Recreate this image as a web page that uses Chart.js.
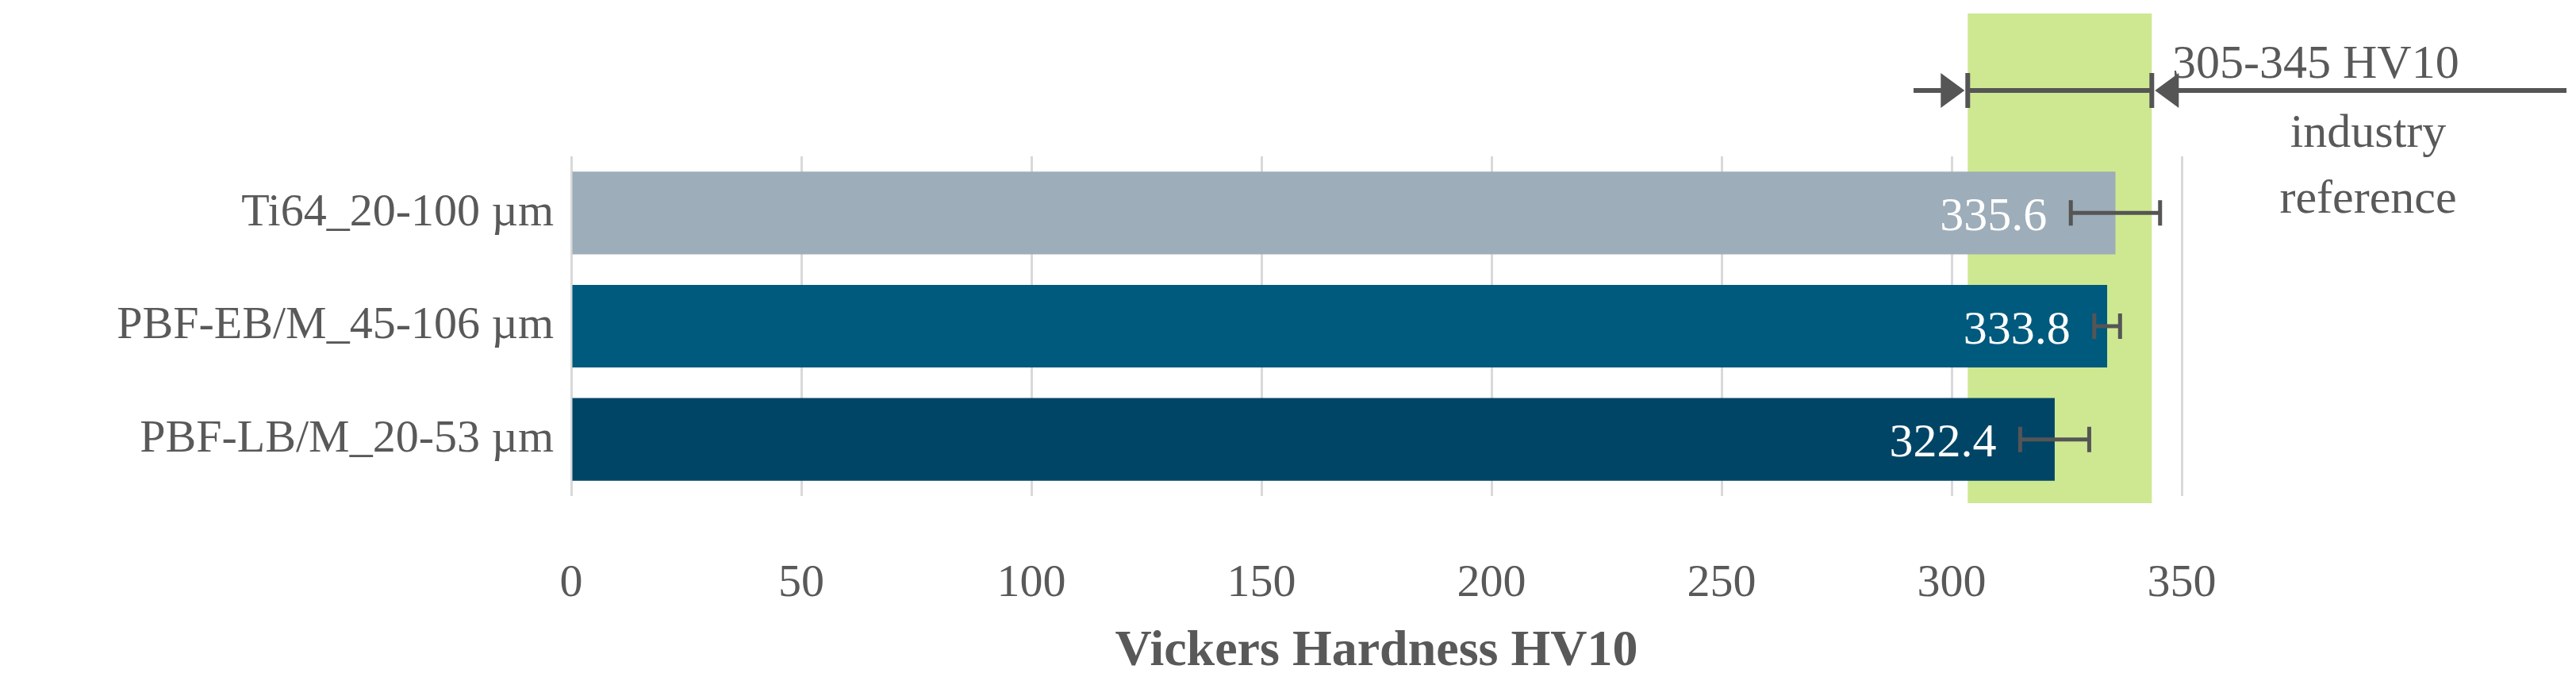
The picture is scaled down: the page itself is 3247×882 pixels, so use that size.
<!DOCTYPE html>
<html><head><meta charset="utf-8">
<script src="https://cdn.jsdelivr.net/npm/chart.js@4"></script>
<style>html,body{margin:0;background:#fff}#wrap{width:3247px;height:882px}</style>
</head><body><div id="wrap"><canvas id="c" width="3247" height="882"></canvas></div>
<script>
const categories = ['Ti64_20-100 µm', 'PBF-EB/M_45-106 µm', 'PBF-LB/M_20-53 µm'];
const hardness = [335.6, 333.8, 322.4];
const errors = [9.7, 2.8, 7.5];
const barColors = ['#9dadb9', '#005a7e', '#004566'];
const xTicks = [0, 50, 100, 150, 200, 250, 300, 350];
const refBand = [303.5, 343.5];

const FONT = '"Liberation Serif", serif';
const GRAY = '#595959';

const overlay = {
  id: 'overlay',
  beforeDatasetsDraw(chart) {
    const { ctx, scales: { x }, chartArea } = chart;
    ctx.save();
    ctx.fillStyle = 'rgba(190,224,110,0.75)';
    const x0 = x.getPixelForValue(refBand[0]), x1 = x.getPixelForValue(refBand[1]);
    ctx.fillRect(x0, 17, x1 - x0, 634 - 17);
    ctx.restore();
  },
  afterDatasetsDraw(chart) {
    const { ctx, scales: { x, y } } = chart;
    ctx.save();
    hardness.forEach((v, i) => {
      const cy = y.getPixelForValue(i);
      const lo = x.getPixelForValue(v - errors[i]), hi = x.getPixelForValue(v + errors[i]);
      ctx.strokeStyle = '#555';
      ctx.lineWidth = 5;
      ctx.beginPath();
      ctx.moveTo(lo, cy); ctx.lineTo(hi, cy);
      ctx.moveTo(lo, cy - 16); ctx.lineTo(lo, cy + 16);
      ctx.moveTo(hi, cy - 16); ctx.lineTo(hi, cy + 16);
      ctx.stroke();
      ctx.fillStyle = '#fff';
      ctx.font = '60px ' + FONT;
      ctx.textAlign = 'right';
      ctx.textBaseline = 'middle';
      ctx.fillText(v.toFixed(1), lo - 30, cy + 6);
    });
    // reference range annotation
    const x0 = x.getPixelForValue(refBand[0]), x1 = x.getPixelForValue(refBand[1]);
    const ay = 114;
    ctx.strokeStyle = '#555';
    ctx.fillStyle = '#555';
    ctx.lineWidth = 6;
    ctx.beginPath();
    ctx.moveTo(2412, ay); ctx.lineTo(x0 - 20, ay);
    ctx.moveTo(x0, ay); ctx.lineTo(x1, ay);
    ctx.moveTo(x0, ay - 22); ctx.lineTo(x0, ay + 22);
    ctx.moveTo(x1, ay - 22); ctx.lineTo(x1, ay + 22);
    ctx.moveTo(x1 + 20, ay); ctx.lineTo(3235, ay);
    ctx.stroke();
    ctx.beginPath();
    ctx.moveTo(x0 - 4, ay); ctx.lineTo(x0 - 34, ay - 22); ctx.lineTo(x0 - 34, ay + 22); ctx.closePath();
    ctx.moveTo(x1 + 4, ay); ctx.lineTo(x1 + 34, ay - 22); ctx.lineTo(x1 + 34, ay + 22); ctx.closePath();
    ctx.fill();
    ctx.fillStyle = GRAY;
    ctx.font = '60px ' + FONT;
    ctx.textAlign = 'left';
    ctx.textBaseline = 'alphabetic';
    ctx.fillText('305-345 HV10', 2738, 98);
    ctx.textAlign = 'center';
    ctx.fillText('industry', 2985, 185);
    ctx.fillText('reference', 2985, 268);
    ctx.restore();
  }
};

new Chart(document.getElementById('c'), {
  type: 'bar',
  data: {
    labels: categories,
    datasets: [{
      data: hardness,
      backgroundColor: barColors,
      categoryPercentage: 0.73,
      barPercentage: 1
    }]
  },
  options: {
    indexAxis: 'y',
    responsive: false,
    animation: false,
    devicePixelRatio: 1,
    layout: { padding: { top: 197, right: 497, left: 0, bottom: 0 } },
    plugins: { legend: { display: false }, tooltip: { enabled: false } },
    scales: {
      x: {
        min: 0, max: 350,
        afterBuildTicks: s => { s.ticks = xTicks.map(v => ({ value: v })); },
        afterFit: s => { s.height = 257; },
        grid: { color: '#d9d9d9', lineWidth: 3, drawTicks: false },
        border: { display: false },
        ticks: { color: GRAY, font: { family: FONT, size: 58 }, padding: 76, maxRotation: 0 },
        title: { display: true, text: 'Vickers Hardness HV10', color: GRAY,
          font: { family: FONT, size: 64, weight: 'bold' }, padding: { top: 0, bottom: 22 } }
      },
      y: {
        afterFit: s => { s.width = 720; },
        grid: { display: false },
        border: { display: false },
        ticks: { color: GRAY, font: { family: FONT, size: 58 }, padding: 14 }
      }
    }
  },
  plugins: [overlay]
});
</script></body></html>
